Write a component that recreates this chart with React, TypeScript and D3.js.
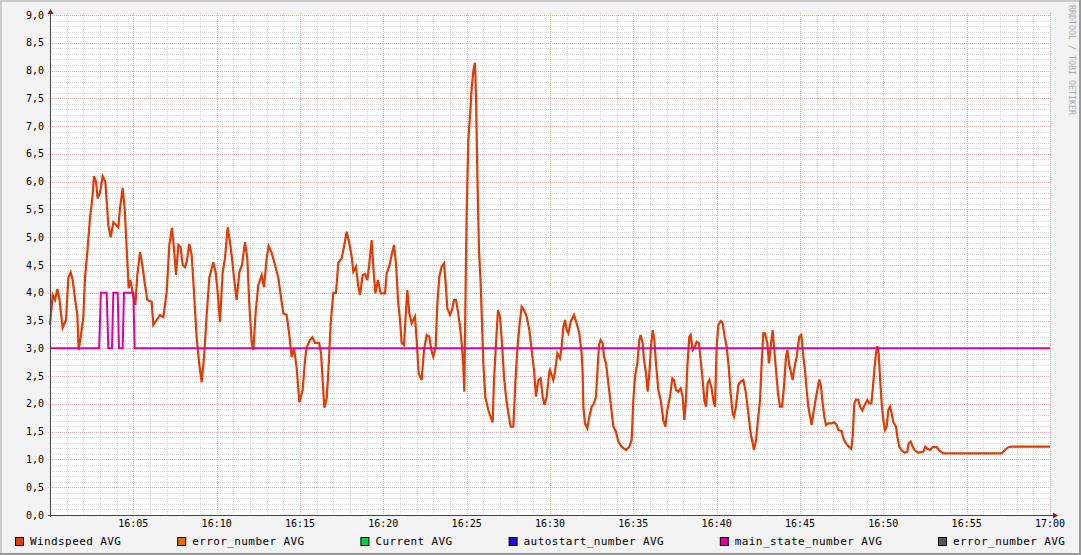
import React from "react";
import * as d3 from "d3";

const W = 1081;
const H = 555;

// Windspeed AVG: minutes after 16:00 and values
const windTimes = [
  0.0, 0.16, 0.3, 0.44, 0.56, 0.76, 0.96, 1.1, 1.24, 1.36, 1.5, 1.64, 1.72, 1.84, 2.0, 2.1, 2.24, 2.4, 2.54, 2.64,
  2.76, 2.86, 3.0, 3.16, 3.32, 3.5, 3.64, 3.8, 4.1, 4.2, 4.36, 4.48, 4.6, 4.72, 4.82, 4.96, 5.12, 5.24, 5.4, 5.54,
  5.7, 5.84, 6.1, 6.2, 6.4, 6.6, 6.8, 7.0, 7.16, 7.32, 7.44, 7.56, 7.7, 7.84, 7.96, 8.1, 8.2, 8.36, 8.5, 8.64,
  8.8, 8.96, 9.1, 9.24, 9.4, 9.56, 9.8, 9.94, 10.06, 10.2, 10.36, 10.5, 10.66, 10.8, 10.92, 11.04, 11.2, 11.36, 11.52, 11.7,
  11.84, 11.96, 12.1, 12.2, 12.34, 12.5, 12.7, 12.84, 13.0, 13.12, 13.3, 13.5, 13.7, 13.84, 14.0, 14.2, 14.36, 14.5, 14.64, 14.8,
  14.96, 15.16, 15.3, 15.4, 15.6, 15.74, 15.9, 16.14, 16.26, 16.36, 16.46, 16.6, 16.7, 16.84, 17.0, 17.16, 17.3, 17.5, 17.64, 17.8,
  17.96, 18.1, 18.2, 18.36, 18.5, 18.6, 18.76, 18.9, 19.04, 19.16, 19.3, 19.4, 19.52, 19.68, 19.84, 20.1, 20.2, 20.36, 20.52, 20.64,
  20.76, 20.88, 21.0, 21.1, 21.24, 21.36, 21.44, 21.56, 21.7, 21.9, 22.0, 22.12, 22.3, 22.44, 22.6, 22.76, 22.88, 23.0, 23.14, 23.24,
  23.36, 23.5, 23.64, 23.74, 23.84, 24.0, 24.12, 24.24, 24.36, 24.48, 24.6, 24.72, 24.8, 24.86, 24.94, 25.0, 25.1, 25.2, 25.3, 25.4,
  25.5, 25.56, 25.64, 25.74, 25.84, 25.92, 26.0, 26.12, 26.3, 26.44, 26.56, 26.64, 26.76, 26.88, 27.0, 27.12, 27.24, 27.36, 27.5, 27.64,
  27.8, 27.92, 28.04, 28.16, 28.3, 28.44, 28.6, 28.76, 28.9, 29.04, 29.16, 29.3, 29.44, 29.56, 29.68, 29.8, 29.96, 30.0, 30.2, 30.3,
  30.44, 30.6, 30.7, 30.8, 30.9, 31.0, 31.1, 31.24, 31.44, 31.6, 31.76, 31.9, 31.96, 32.0, 32.1, 32.24, 32.36, 32.5, 32.64, 32.76,
  32.84, 32.94, 33.04, 33.16, 33.24, 33.36, 33.5, 33.64, 33.8, 33.96, 34.1, 34.3, 34.56, 34.76, 34.9, 35.0, 35.1, 35.24, 35.36, 35.44,
  35.56, 35.64, 35.76, 35.86, 35.96, 36.06, 36.16, 36.26, 36.36, 36.5, 36.64, 36.8, 36.92, 37.04, 37.2, 37.34, 37.44, 37.56, 37.7, 37.84,
  37.96, 38.06, 38.16, 38.24, 38.36, 38.44, 38.56, 38.7, 38.8, 38.94, 39.04, 39.16, 39.26, 39.36, 39.46, 39.56, 39.68, 39.8, 39.9, 40.0,
  40.1, 40.24, 40.36, 40.48, 40.6, 40.72, 40.84, 40.96, 41.04, 41.16, 41.3, 41.44, 41.6, 41.76, 41.9, 42.04, 42.16, 42.24, 42.36, 42.48,
  42.6, 42.7, 42.8, 42.9, 43.04, 43.14, 43.26, 43.36, 43.44, 43.56, 43.68, 43.8, 43.92, 44.04, 44.16, 44.24, 44.36, 44.56, 44.64, 44.8,
  44.96, 45.08, 45.2, 45.3, 45.4, 45.5, 45.6, 45.7, 45.8, 45.9, 46.04, 46.16, 46.26, 46.36, 46.46, 46.56, 46.7, 46.9, 47.06, 47.2,
  47.3, 47.5, 47.6, 47.76, 47.92, 48.08, 48.16, 48.26, 48.36, 48.5, 48.6, 48.74, 48.88, 49.04, 49.16, 49.28, 49.36, 49.48, 49.56, 49.64,
  49.72, 49.8, 49.9, 50.0, 50.1, 50.2, 50.3, 50.4, 50.5, 50.6, 50.76, 50.84, 50.96, 51.1, 51.3, 51.44, 51.52, 51.64, 51.76, 51.9,
  52.1, 52.4, 52.52, 52.64, 52.8, 52.96, 53.2, 53.36, 53.6, 57.1, 57.3, 57.5, 57.7, 60.0,
];
const windValues = [
  3.42, 3.96, 3.87, 4.07, 3.9, 3.37, 3.51, 4.27, 4.37, 4.23, 3.9, 3.6, 2.97, 3.2, 3.56, 4.27, 4.73, 5.35, 5.7, 6.1,
  6.0, 5.7, 5.8, 6.1, 6.0, 5.22, 5.0, 5.27, 5.18, 5.52, 5.89, 5.52, 4.8, 4.08, 4.23, 4.01, 3.78, 4.32, 4.73, 4.5,
  4.14, 3.87, 3.84, 3.42, 3.51, 3.6, 3.56, 4.01, 4.86, 5.17, 4.8, 4.32, 4.86, 4.82, 4.5, 4.46, 4.55, 4.88, 4.68, 4.01,
  3.19, 2.7, 2.39, 2.83, 3.6, 4.27, 4.55, 4.37, 4.01, 3.47, 4.37, 4.62, 5.18, 4.91, 4.62, 4.27, 3.87, 4.37, 4.5, 4.91,
  4.62, 3.78, 3.11, 2.97, 3.65, 4.14, 4.32, 4.1, 4.62, 4.84, 4.72, 4.5, 4.27, 3.96, 3.63, 3.6, 3.24, 2.84, 3.0, 2.65,
  2.03, 2.25, 2.79, 3.02, 3.15, 3.2, 3.1, 3.1, 2.92, 2.43, 1.93, 2.1, 2.57, 3.45, 4.0, 4.0, 4.54, 4.62, 4.83, 5.1,
  4.89, 4.65, 4.38, 4.47, 4.11, 3.96, 4.32, 4.34, 4.23, 4.53, 4.95, 4.47, 3.99, 4.23, 3.99, 3.99, 4.35, 4.48, 4.71, 4.86,
  4.53, 3.87, 3.51, 3.1, 3.06, 3.69, 4.05, 3.63, 3.45, 3.57, 3.15, 2.55, 2.43, 2.97, 3.24, 3.21, 2.97, 2.85, 3.03, 3.81,
  4.29, 4.47, 4.53, 4.17, 3.72, 3.6, 3.69, 3.87, 3.87, 3.66, 3.39, 3.03, 2.67, 2.22, 4.17, 5.43, 6.75, 7.17, 7.68, 8.0,
  8.14, 7.53, 6.15, 4.77, 4.17, 3.45, 2.73, 2.12, 1.89, 1.76, 1.67, 2.43, 3.09, 3.69, 3.57, 3.09, 2.49, 2.13, 1.83, 1.59,
  1.59, 2.37, 2.97, 3.39, 3.75, 3.69, 3.57, 3.33, 2.97, 2.61, 2.13, 2.43, 2.46, 2.13, 1.98, 2.13, 2.57, 2.61, 2.43, 2.57,
  2.91, 2.82, 3.03, 3.39, 3.51, 3.33, 3.27, 3.48, 3.6, 3.45, 3.27, 2.91, 2.55, 1.95, 1.65, 1.56, 1.77, 1.95, 2.01, 2.13,
  2.55, 3.06, 3.15, 3.09, 2.85, 2.73, 2.37, 2.01, 1.59, 1.5, 1.32, 1.23, 1.17, 1.23, 1.35, 2.07, 2.49, 2.73, 3.15, 3.24,
  3.09, 2.79, 2.55, 2.22, 2.55, 3.03, 3.33, 3.15, 2.73, 2.25, 2.07, 1.71, 1.59, 1.89, 2.13, 2.46, 2.43, 2.25, 2.22, 2.28,
  2.13, 1.71, 2.07, 2.67, 3.21, 3.24, 2.97, 3.03, 3.12, 3.09, 2.79, 2.43, 2.07, 1.95, 2.37, 2.43, 2.31, 2.07, 1.95, 3.03,
  3.42, 3.49, 3.45, 3.21, 3.03, 2.67, 2.19, 1.83, 1.77, 1.95, 2.34, 2.4, 2.43, 2.19, 1.83, 1.47, 1.29, 1.17, 1.35, 1.71,
  2.07, 2.73, 3.27, 3.27, 3.09, 2.73, 3.09, 3.33, 3.03, 2.61, 2.19, 1.95, 1.95, 2.31, 2.85, 2.97, 2.7, 2.43, 2.61, 2.85,
  3.21, 3.24, 2.85, 2.61, 2.25, 1.95, 1.77, 1.62, 1.83, 2.01, 2.25, 2.44, 2.31, 2.01, 1.77, 1.62, 1.65, 1.65, 1.67, 1.62,
  1.53, 1.51, 1.38, 1.29, 1.23, 1.19, 1.41, 2.01, 2.08, 2.07, 1.95, 1.88, 1.98, 2.07, 2.01, 2.01, 2.25, 2.67, 2.91, 3.04,
  2.91, 2.49, 2.01, 1.71, 1.53, 1.59, 1.89, 1.95, 1.83, 1.67, 1.59, 1.41, 1.23, 1.16, 1.12, 1.14, 1.29, 1.32, 1.23, 1.16,
  1.12, 1.14, 1.23, 1.19, 1.17, 1.22, 1.22, 1.16, 1.11, 1.11, 1.17, 1.22, 1.23, 1.23,
];

// main_state_number AVG
const stateTimes = [0, 2.95, 3.05, 3.4, 3.5, 3.72, 3.8, 4.06, 4.14, 4.36, 4.44, 5.0, 5.08, 60];
const stateValues = [3, 3, 4, 4, 3, 3, 4, 4, 3, 3, 4, 4, 3, 3];

const xTickLabels = ["16:05", "16:10", "16:15", "16:20", "16:25", "16:30", "16:35", "16:40", "16:45", "16:50", "16:55", "17:00"];
const xTickMinutes = [5, 10, 15, 20, 25, 30, 35, 40, 45, 50, 55, 60];
const yTickLabels = ["0,0", "0,5", "1,0", "1,5", "2,0", "2,5", "3,0", "3,5", "4,0", "4,5", "5,0", "5,5", "6,0", "6,5", "7,0", "7,5", "8,0", "8,5", "9,0"];
const yTickValues = [0, 0.5, 1, 1.5, 2, 2.5, 3, 3.5, 4, 4.5, 5, 5.5, 6, 6.5, 7, 7.5, 8, 8.5, 9];

const legendNames = ["Windspeed AVG", "error_number AVG", "Current AVG", "autostart_number AVG", "main_state_number AVG", "error_number AVG"];
const legendColors = ["#E03C08", "#E07000", "#00D040", "#2800E0", "#E000A0", "#555555"];

const FONT = "'DejaVu Sans Mono', monospace";

export default function App() {
  const x0 = 50, x1 = 1050, y0 = 515, y1 = 15;
  const x = d3.scaleLinear().domain([0, 60]).range([x0, x1]);
  const y = d3.scaleLinear().domain([0, 9]).range([y0, y1]);
  const crisp = (v: number) => Math.round(v) + 0.5;

  const wind = windTimes.map((t, i) => [t, windValues[i]] as [number, number]);
  const state = stateTimes.map((t, i) => [t, stateValues[i]] as [number, number]);
  const line = d3.line<[number, number]>().x((d) => x(d[0])).y((d) => y(d[1]));

  const minorX = d3.range(1, 61).filter((m) => m % 5 !== 0);
  const majorX = d3.range(5, 61, 5);
  const minorY = d3.range(1, 91).filter((i) => i % 5 !== 0).map((i) => i / 10);
  const majorY = d3.range(5, 91, 5).map((i) => i / 10);

  const minorColor = "#d8d8d8";
  const majorColor = "#ecb0b0";

  // legend justified across width
  const charW = 7;
  const widths = legendNames.map((n) => 15 + n.length * charW);
  const total = widths.reduce((a, b) => a + b, 0);
  const gap = (1065 - 15 - total) / (legendNames.length - 1);
  let acc = 15;
  const legendX = widths.map((w) => {
    const p = acc;
    acc += w + gap;
    return p;
  });

  return (
    <svg width={W} height={H} style={{ position: "absolute", left: 0, top: 0, display: "block" }} fontFamily={FONT}>
      <rect x={0} y={0} width={W} height={H} fill="#F3F3F3" />
      <rect x={0} y={0} width={W} height={2} fill="#CBCBCB" />
      <rect x={0} y={0} width={2} height={H} fill="#CBCBCB" />
      <rect x={W - 2} y={0} width={2} height={H} fill="#999999" />
      <rect x={0} y={H - 2} width={W} height={2} fill="#999999" />
      <rect x={x0} y={y1} width={x1 - x0} height={y0 - y1} fill="#FFFFFF" />

      {/* minor grid */}
      <g stroke={minorColor} strokeWidth={1} shapeRendering="crispEdges">
        {minorX.map((m) => (
          <line key={"mx" + m} x1={crisp(x(m))} x2={crisp(x(m))} y1={y1 - 2} y2={y0 + 2} strokeDasharray="1,1" />
        ))}
        {minorY.map((v) => (
          <line key={"my" + v} x1={x0 - 2} x2={x1 + 2} y1={crisp(y(v))} y2={crisp(y(v))} strokeDasharray="1,1" />
        ))}
      </g>
      {/* major grid */}
      <g stroke={majorColor} strokeWidth={1} shapeRendering="crispEdges">
        {majorX.map((m) => (
          <line key={"Mx" + m} x1={crisp(x(m))} x2={crisp(x(m))} y1={y1 - 2} y2={y0 + 2} strokeDasharray="1,1" />
        ))}
        {majorY.map((v) => (
          <line key={"My" + v} x1={x0 - 2} x2={x1 + 2} y1={crisp(y(v))} y2={crisp(y(v))} strokeDasharray="1,1" />
        ))}
      </g>

      {/* series */}
      <path d={line(wind) || ""} fill="none" stroke="#E03C08" strokeWidth={2.2} strokeLinejoin="miter" />
      <path d={line(state) || ""} fill="none" stroke="#E000A0" strokeWidth={2} />

      {/* axes */}
      <line x1={x0 - 2} x2={x1 + 6} y1={y0 + 0.5} y2={y0 + 0.5} stroke="#444" strokeWidth={1} />
      <line x1={x0 + 0.5} x2={x0 + 0.5} y1={y0 + 2} y2={y1 - 5} stroke="#444" strokeWidth={1} />
      <path d={`M${x1 + 3},${y0 - 2.5} L${x1 + 8},${y0 + 0.5} L${x1 + 3},${y0 + 3.5} Z`} fill="#8B1A1A" />
      <path d={`M${x0 - 2.5},${y1 - 1} L${x0 + 0.5},${y1 - 6} L${x0 + 3.5},${y1 - 1} Z`} fill="#8B1A1A" />

      {/* tick labels */}
      <g fontSize={10} fill="#000">
        {yTickValues.map((v, i) => (
          <text key={"yl" + i} x={44} y={y(v)} textAnchor="end" dominantBaseline="central">
            {yTickLabels[i]}
          </text>
        ))}
        {xTickMinutes.map((m, i) => (
          <text key={"xl" + i} x={x(m)} y={527} textAnchor="middle">
            {xTickLabels[i]}
          </text>
        ))}
      </g>

      {/* watermark */}
      <text transform={`translate(1072,5) rotate(90)`} fontSize={8.3} fill="#a8a8a8" dominantBaseline="central">
        RRDTOOL / TOBI OETIKER
      </text>

      {/* legend */}
      <g fontSize={11} letterSpacing={0.4} fill="#000">
        {legendNames.map((n, i) => (
          <g key={"lg" + i}>
            <rect x={legendX[i] + 0.5} y={537.5} width={8} height={8} fill={legendColors[i]} stroke="#000" strokeWidth={1} />
            <text x={legendX[i] + 15} y={545}>
              {n}
            </text>
          </g>
        ))}
      </g>
    </svg>
  );
}
